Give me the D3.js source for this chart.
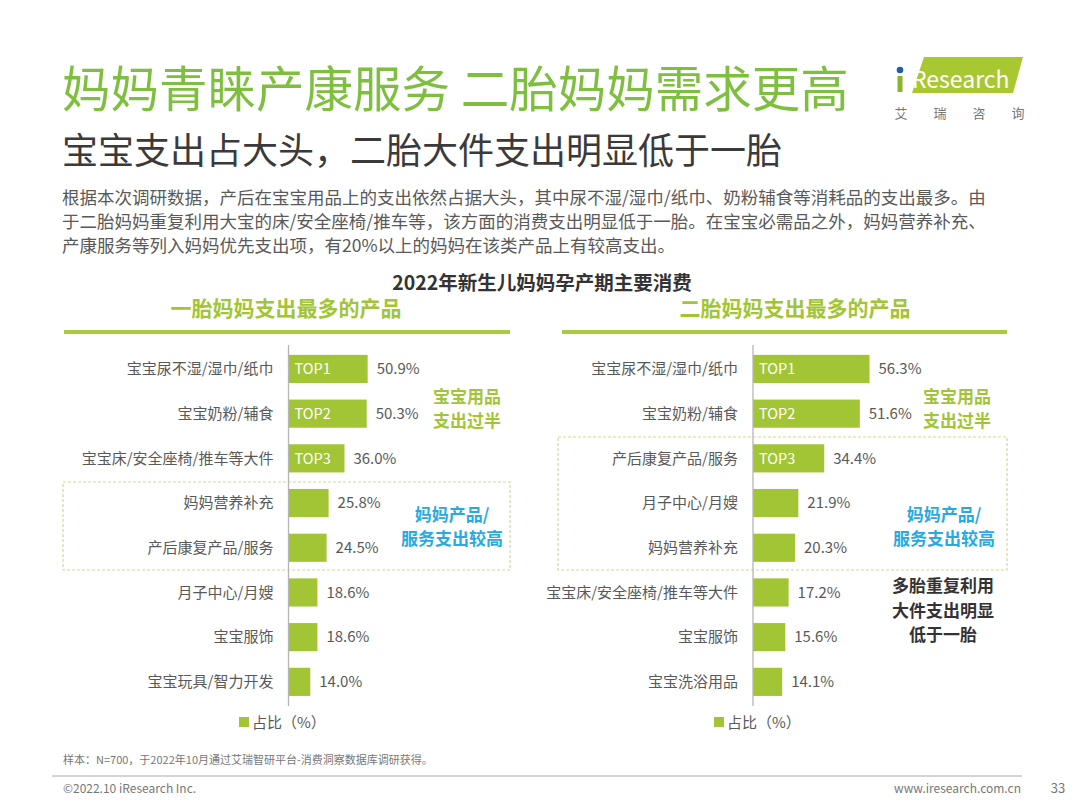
<!DOCTYPE html>
<html><head><meta charset="utf-8">
<script src="https://cdn.jsdelivr.net/npm/d3@7"></script>
<style>
html,body{margin:0;padding:0;background:#fff;}
text{font-family:"Noto Sans CJK SC","Microsoft YaHei",sans-serif;}
</style></head>
<body>
<svg id="c" width="1080" height="810"></svg>
<script>
// ---------- data ----------
const firstCats = ["宝宝尿不湿/湿巾/纸巾","宝宝奶粉/辅食","宝宝床/安全座椅/推车等大件","妈妈营养补充","产后康复产品/服务","月子中心/月嫂","宝宝服饰","宝宝玩具/智力开发"];
const firstVals = [50.9, 50.3, 36.0, 25.8, 24.5, 18.6, 18.6, 14.0];
const secondCats = ["宝宝尿不湿/湿巾/纸巾","宝宝奶粉/辅食","产后康复产品/服务","月子中心/月嫂","妈妈营养补充","宝宝床/安全座椅/推车等大件","宝宝服饰","宝宝洗浴用品"];
const secondVals = [56.3, 51.6, 34.4, 21.9, 20.3, 17.2, 15.6, 14.1];
const topLabels = ["TOP1","TOP2","TOP3"];
const legendLabel = "占比（%）";
const paragraph = [
 "根据本次调研数据，产后在宝宝用品上的支出依然占据大头，其中尿不湿/湿巾/纸巾、奶粉辅食等消耗品的支出最多。由",
 "于二胎妈妈重复利用大宝的床/安全座椅/推车等，该方面的消费支出明显低于一胎。在宝宝必需品之外，妈妈营养补充、",
 "产康服务等列入妈妈优先支出项，有20%以上的妈妈在该类产品上有较高支出。"
];

const GREEN = "#a2c535", TITLE_GREEN = "#7fbf3f", BLUE = "#2aa9df", GRAY = "#595959";
const svg = d3.select("#c");
svg.append("rect").attr("width",1080).attr("height",810).attr("fill","#fff");

// ---------- header ----------
svg.append("text").attr("x",62).attr("y",107).attr("font-size",48.5).attr("fill",TITLE_GREEN)
  .text("妈妈青睐产康服务 二胎妈妈需求更高");
svg.append("text").attr("x",62).attr("y",164).attr("font-size",36).attr("fill","#3a3a3a")
  .text("宝宝支出占大头，二胎大件支出明显低于一胎");
const para = svg.append("text").attr("font-size",17.5).attr("fill",GRAY);
paragraph.forEach((l,i)=>{
  para.append("tspan").attr("x",62).attr("y",204+i*24).text(l);
});

// logo
const lg = svg.append("g");
lg.append("path").attr("d","M924,57 L1023,57 L1013,93 L912,93 Z").attr("fill","#a8c832");
lg.append("circle").attr("cx",900).attr("cy",70).attr("r",3.3).attr("fill","#1f5fa8");
lg.append("rect").attr("x",897.5).attr("y",76).attr("width",5).attr("height",16).attr("fill","#8ab52a");
lg.append("text").attr("x",912).attr("y",88).attr("font-size",23).attr("fill","#fff")
  .attr("font-family","Open Sans, sans-serif").text("Research");
const lgt = lg.append("text").attr("y",118).attr("font-size",13).attr("fill","#777").attr("text-anchor","middle");
["艾","瑞","咨","询"].forEach((c,i)=>{ lgt.append("tspan").attr("x",901+i*39).text(c); });

// chart title
svg.append("text").attr("x",542).attr("y",290).attr("text-anchor","middle").attr("font-size",19.5)
  .attr("font-weight","bold").attr("fill","#333").text("2022年新生儿妈妈孕产期主要消费");

// ---------- panels ----------
function panel(cats, vals, opt){
  const g = svg.append("g");
  g.append("text").attr("x",opt.headX).attr("y",316).attr("text-anchor","middle").attr("font-size",21)
    .attr("font-weight","bold").attr("fill",GREEN).text(opt.head);
  g.append("line").attr("x1",opt.ruleX0).attr("x2",opt.ruleX1).attr("y1",332).attr("y2",332)
    .attr("stroke","#a9cb3f").attr("stroke-width",4);
  g.append("rect").attr("x",opt.box[0]).attr("y",opt.box[1]).attr("width",opt.box[2]).attr("height",opt.box[3])
    .attr("fill","none").attr("stroke","#c9de8f").attr("stroke-width",1.2).attr("stroke-dasharray","3,2");

  const x = d3.scaleLinear().domain([0,100]).range([opt.axisX, opt.axisX + 100*opt.ppp]);
  const y = d3.scaleBand().domain(cats).range([346.6, 704.2]).paddingInner(0.37).paddingOuter(0.185);

  g.selectAll(".bar").data(vals).join("rect")
    .attr("x",x(0)).attr("y",(d,i)=>y(cats[i])).attr("width",d=>x(d)-x(0)).attr("height",y.bandwidth())
    .attr("fill",GREEN);
  g.append("line").attr("x1",opt.axisX).attr("x2",opt.axisX).attr("y1",345).attr("y2",706)
    .attr("stroke","#b5b5b5").attr("stroke-width",1.3);
  g.selectAll(".cat").data(cats).join("text")
    .attr("x",opt.axisX-15).attr("y",d=>y(d)+y.bandwidth()/2+5.2).attr("text-anchor","end")
    .attr("font-size",15).attr("fill",GRAY).text(d=>d);
  g.selectAll(".val").data(vals).join("text")
    .attr("x",d=>x(d)+9).attr("y",(d,i)=>y(cats[i])+y.bandwidth()/2+5.2)
    .attr("font-size",15).attr("fill",GRAY).text(d=>d.toFixed(1)+"%");
  g.selectAll(".top").data(topLabels).join("text")
    .attr("x",opt.axisX+6).attr("y",(d,i)=>y(cats[i])+y.bandwidth()/2+5.5)
    .attr("font-size",14.5).attr("fill","#fff").text(d=>d);
  g.append("rect").attr("x",opt.legX).attr("y",717).attr("width",10).attr("height",10).attr("fill",GREEN);
  g.append("text").attr("x",opt.legX+13).attr("y",727.5).attr("font-size",15).attr("fill",GRAY).text(legendLabel);
  opt.notes.forEach(n=>{
    const t = g.append("text").attr("text-anchor","middle").attr("font-size",17)
      .attr("font-weight","bold").attr("fill",n.color);
    n.lines.forEach((l,i)=>{ t.append("tspan").attr("x",n.x).attr("y",n.y+i*n.lh).text(l); });
  });
}

panel(firstCats, firstVals, {
  head:"一胎妈妈支出最多的产品", headX:286, ruleX0:64, ruleX1:510,
  box:[63,482,447,88], axisX:288.5, ppp:1.555, legX:239,
  notes:[
    {lines:["宝宝用品","支出过半"], x:467, y:402.5, lh:24.6, color:GREEN},
    {lines:["妈妈产品/","服务支出较高"], x:452, y:520.5, lh:24.6, color:BLUE}
  ]
});
panel(secondCats, secondVals, {
  head:"二胎妈妈支出最多的产品", headX:795, ruleX0:562, ruleX1:1007,
  box:[558,437,449,133], axisX:753, ppp:2.07, legX:714,
  notes:[
    {lines:["宝宝用品","支出过半"], x:957, y:402.5, lh:24.6, color:GREEN},
    {lines:["妈妈产品/","服务支出较高"], x:944, y:520.5, lh:24.6, color:BLUE},
    {lines:["多胎重复利用","大件支出明显","低于一胎"], x:943, y:592, lh:24.6, color:"#333"}
  ]
});

// ---------- footer ----------
svg.append("text").attr("x",63).attr("y",764).attr("font-size",11).attr("fill","#777")
  .text("样本：N=700，于2022年10月通过艾瑞智研平台-消费洞察数据库调研获得。");
svg.append("line").attr("x1",52).attr("x2",1022).attr("y1",776).attr("y2",776).attr("stroke","#aaa").attr("stroke-width",1);
svg.append("text").attr("x",63).attr("y",793).attr("font-size",12).attr("fill","#777").text("©2022.10 iResearch Inc.");
svg.append("text").attr("x",1021).attr("y",793).attr("text-anchor","end").attr("font-size",12).attr("fill","#777").text("www.iresearch.com.cn");
svg.append("text").attr("x",1058).attr("y",793).attr("text-anchor","middle").attr("font-size",13).attr("fill","#777").text("33");
</script>
</body></html>
